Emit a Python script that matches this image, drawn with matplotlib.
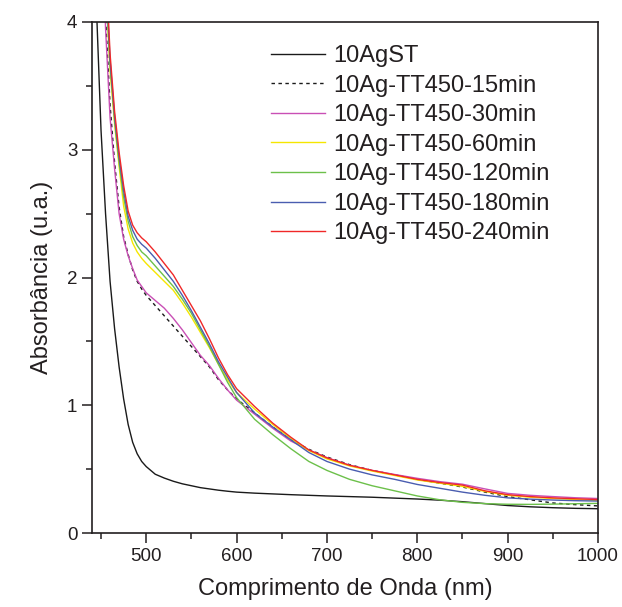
import matplotlib
matplotlib.use("Agg")
import matplotlib.pyplot as plt
from matplotlib.ticker import MultipleLocator

plt.rcParams['font.family'] = ['Liberation Sans', 'DejaVu Sans']

# wavelength grid (nm)
wl = [440, 445, 450, 455, 460, 465, 470, 475, 480, 485, 490, 495, 500,
      510, 520, 530, 540, 550, 560, 570, 580, 590, 600, 620, 640, 660,
      680, 700, 725, 750, 775, 800, 825, 850, 875, 900, 925, 950, 975, 1000]

ag_st = [4.9, 4.1, 3.15, 2.5, 1.97, 1.6, 1.3, 1.05, 0.85, 0.71, 0.62, 0.56, 0.52,
         0.46, 0.43, 0.405, 0.385, 0.37, 0.355, 0.345, 0.335, 0.327, 0.32, 0.312, 0.306, 0.30,
         0.295, 0.29, 0.285, 0.28, 0.273, 0.266, 0.257, 0.245, 0.23, 0.215, 0.205, 0.198, 0.193, 0.19]

tt_15 = [7.0, 6.0, 5.0, 4.05, 3.35, 2.9, 2.55, 2.32, 2.18, 2.06, 1.97, 1.91, 1.86,
         1.78, 1.70, 1.62, 1.54, 1.46, 1.38, 1.30, 1.20, 1.12, 1.05, 0.94, 0.83, 0.73,
         0.655, 0.595, 0.535, 0.49, 0.455, 0.42, 0.39, 0.36, 0.32, 0.285, 0.26, 0.235, 0.222, 0.212]

tt_30 = [7.0, 6.0, 5.0, 3.95, 3.25, 2.85, 2.5, 2.3, 2.17, 2.07, 1.98, 1.93, 1.88,
         1.82, 1.76, 1.68, 1.59, 1.49, 1.39, 1.31, 1.21, 1.12, 1.04, 0.93, 0.82, 0.72,
         0.65, 0.59, 0.53, 0.49, 0.458, 0.428, 0.402, 0.382, 0.345, 0.31, 0.295, 0.285, 0.276, 0.27]

tt_60 = [7.0, 6.0, 5.2, 4.3, 3.62, 3.2, 2.87, 2.56, 2.38, 2.27, 2.2, 2.15, 2.11,
         2.04, 1.97, 1.9, 1.8, 1.69, 1.57, 1.45, 1.32, 1.2, 1.1, 0.97, 0.85, 0.74,
         0.645, 0.58, 0.525, 0.485, 0.45, 0.415, 0.39, 0.365, 0.325, 0.295, 0.28, 0.27, 0.262, 0.255]

tt_120 = [7.0, 6.0, 5.2, 4.35, 3.66, 3.23, 2.9, 2.63, 2.44, 2.32, 2.25, 2.2, 2.17,
          2.09, 2.01, 1.93, 1.83, 1.72, 1.59, 1.46, 1.32, 1.18, 1.06, 0.89, 0.77, 0.66,
          0.56, 0.49, 0.42, 0.37, 0.33, 0.29, 0.26, 0.24, 0.23, 0.225, 0.224, 0.226, 0.229, 0.232]

tt_180 = [7.0, 6.0, 5.3, 4.4, 3.7, 3.26, 2.94, 2.68, 2.48, 2.37, 2.3, 2.26, 2.23,
          2.15, 2.06, 1.97, 1.86, 1.74, 1.61, 1.48, 1.34, 1.22, 1.1, 0.94, 0.83, 0.73,
          0.63, 0.56, 0.5, 0.455, 0.42, 0.38, 0.35, 0.32, 0.295, 0.275, 0.265, 0.258, 0.253, 0.25]

tt_240 = [7.0, 6.0, 5.4, 4.5, 3.75, 3.3, 2.98, 2.72, 2.52, 2.41, 2.35, 2.31, 2.28,
          2.2, 2.11, 2.02, 1.9, 1.78, 1.66, 1.52, 1.37, 1.24, 1.13, 0.99, 0.86, 0.75,
          0.65, 0.588, 0.53, 0.49, 0.455, 0.42, 0.395, 0.375, 0.33, 0.3, 0.285, 0.275, 0.268, 0.262]

labels = ["10AgST", "10Ag-TT450-15min", "10Ag-TT450-30min", "10Ag-TT450-60min",
          "10Ag-TT450-120min", "10Ag-TT450-180min", "10Ag-TT450-240min"]
series = [ag_st, tt_15, tt_30, tt_60, tt_120, tt_180, tt_240]
colors = ["#1a1a1a", "#1a1a1a", "#c94fb5", "#f5e600", "#6cc04a", "#4a5db0", "#f02828"]
styles = ["-", (0, (2.5, 2.5)), "-", "-", "-", "-", "-"]

ink = "#231f20"

fig = plt.figure(figsize=(6.22, 6.07), dpi=100)
ax = fig.add_axes([92 / 622, 1 - 533 / 607, 506 / 622, 511 / 607])

for y, lab, c, ls in zip(series, labels, colors, styles):
    ax.plot(wl, y, color=c, linestyle=ls, linewidth=1.0, label=lab)

ax.set_xlim(440, 1000)
ax.set_ylim(0, 4)
ax.xaxis.set_major_locator(MultipleLocator(100))
ax.xaxis.set_minor_locator(MultipleLocator(50))
ax.yaxis.set_major_locator(MultipleLocator(1))
ax.yaxis.set_minor_locator(MultipleLocator(0.5))

ax.tick_params(which='major', direction='out', length=7, width=1.1, colors=ink,
               labelsize=13.5, labelcolor=ink)
ax.tick_params(which='minor', direction='out', length=4, width=1.1, colors=ink)
for s in ax.spines.values():
    s.set_linewidth(1.2)
    s.set_color(ink)

ax.set_xlabel("Comprimento de Onda (nm)", fontsize=17, color=ink, labelpad=10)
ax.set_ylabel("Absorbância (u.a.)", fontsize=17, color=ink, labelpad=10)

leg = ax.legend(loc='upper left', bbox_to_anchor=((271 - 92) / 506, (533 - 45) / 511),
                frameon=False, fontsize=17, handlelength=2.3, handletextpad=0.34,
                labelspacing=0.32, borderpad=0, borderaxespad=0)
for t in leg.get_texts():
    t.set_color(ink)

fig.savefig("out.png", dpi=100)
